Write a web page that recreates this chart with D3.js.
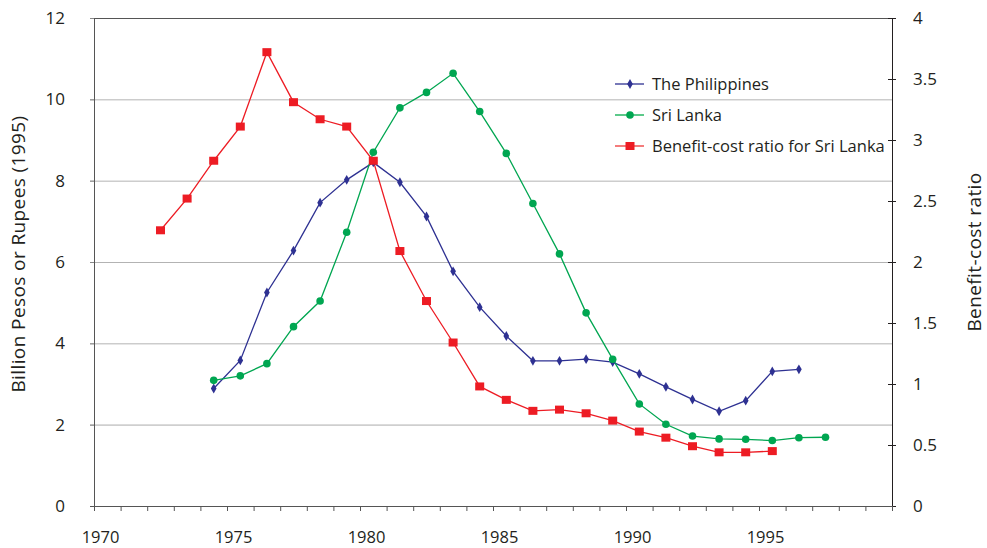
<!DOCTYPE html>
<html lang="en">
    <head>
        <meta charset="utf-8">
        <title>Billion Pesos or Rupees and Benefit-cost ratio</title>
        <style>
            body {
                margin: 0;
                background-color: white;
            }
            svg text {
                font-family: "Open Sans", "Noto Sans", sans-serif;
                fill: #231f20;
            }
        </style>
        <script src="https://d3js.org/d3.v7.min.js"></script>
    </head>
    <body>
    </body>
    <script>
        // values
        let philippinesYears = [1974, 1975, 1976, 1977, 1978, 1979, 1980, 1981, 1982, 1983, 1984, 1985,
                                1986, 1987, 1988, 1989, 1990, 1991, 1992, 1993, 1994, 1995, 1996]
        let philippinesValues = [2.89, 3.58, 5.25, 6.28, 7.46, 8.02, 8.45, 7.96, 7.12, 5.77, 4.89, 4.18,
                                 3.57, 3.57, 3.61, 3.54, 3.25, 2.93, 2.62, 2.33, 2.59, 3.31, 3.36]

        let sriLankaYears = [1974, 1975, 1976, 1977, 1978, 1979, 1980, 1981, 1982, 1983, 1984, 1985,
                             1986, 1987, 1988, 1989, 1990, 1991, 1992, 1993, 1994, 1995, 1996, 1997]
        let sriLankaValues = [3.09, 3.20, 3.50, 4.41, 5.04, 6.73, 8.70, 9.79, 10.17, 10.64, 9.70, 8.67,
                              7.44, 6.20, 4.75, 3.61, 2.51, 2.01, 1.72, 1.65, 1.64, 1.61, 1.68, 1.69]

        let ratioYears = [1972, 1973, 1974, 1975, 1976, 1977, 1978, 1979, 1980, 1981, 1982, 1983,
                          1984, 1985, 1986, 1987, 1988, 1989, 1990, 1991, 1992, 1993, 1994, 1995]
        let ratioValues = [2.26, 2.52, 2.83, 3.11, 3.72, 3.31, 3.17, 3.11, 2.83, 2.09, 1.68, 1.34,
                           0.98, 0.87, 0.78, 0.79, 0.76, 0.70, 0.61, 0.56, 0.49, 0.44, 0.44, 0.45]

        let xTickLabels = [1970, 1975, 1980, 1985, 1990, 1995]
        let leftTicks = [0, 2, 4, 6, 8, 10, 12]
        let rightTicks = [0, 0.5, 1, 1.5, 2, 2.5, 3, 3.5, 4]
        let seriesNames = ["The Philippines", "Sri Lanka", "Benefit-cost ratio for Sri Lanka"]

        let width = 987
        let height = 548
        let plotLeft = 94
        let plotRight = 892
        let plotTop = 18
        let plotBottom = 506

        let blue = "#2e3192"
        let green = "#00a651"
        let red = "#ed1c24"

        let svg = d3.select("body")
                    .append("svg")
                    .attr("width", width)
                    .attr("height", height)

        // one category per year, points sit in the middle of each
        let xScale = d3.scaleLinear()
                        .domain([1970, 2000])
                        .range([plotLeft, plotRight])
        let xPos = (year) => xScale(year + 0.5)

        let yLeft = d3.scaleLinear()
                        .domain([0, 12])
                        .range([plotBottom, plotTop])
        let yRight = d3.scaleLinear()
                        .domain([0, 4])
                        .range([plotBottom, plotTop])

        // gridlines
        svg.append("g")
            .attr("transform", `translate(${plotLeft},0)`)
            .call(d3.axisLeft(yLeft)
                    .tickValues(leftTicks.filter((d) => d > 0 && d < 12))
                    .tickSize(-(plotRight - plotLeft))
                    .tickFormat(""))
            .call((g) => g.select(".domain").remove())
            .call((g) => g.selectAll("line")
                            .attr("x1", -4)
                            .attr("stroke", (d) => d == 2 ? "#cfcfcf" : "#b3b3b3")
                            .attr("stroke-width", (d) => d == 2 ? 1.6 : 1))

        // top border
        svg.append("line")
            .attr("x1", plotLeft)
            .attr("x2", plotRight)
            .attr("y1", plotTop + 0.5)
            .attr("y2", plotTop + 0.5)
            .attr("stroke", "#555")

        // left axis
        let leftAxis = svg.append("g")
            .attr("transform", `translate(${plotLeft},0)`)
            .call(d3.axisLeft(yLeft)
                    .tickValues(leftTicks)
                    .tickSize(4)
                    .tickPadding(25)
                    .tickSizeOuter(0))
        leftAxis.select(".domain").attr("stroke", "#555")
        leftAxis.selectAll("line").attr("stroke", "#888")
        leftAxis.selectAll("text")
                .attr("font-size", "17px")
                .attr("font-family", "'Open Sans', sans-serif")
                .attr("fill", "#231f20")

        // right axis
        let rightAxis = svg.append("g")
            .attr("transform", `translate(${plotRight},0)`)
            .call(d3.axisRight(yRight)
                    .tickValues(rightTicks)
                    .tickSize(4)
                    .tickPadding(17)
                    .tickSizeOuter(0)
                    .tickFormat((d) => d))
        rightAxis.select(".domain").attr("stroke", "#231f20")
        rightAxis.selectAll(".tick line")
                .attr("x1", -4)
                .attr("stroke", "#231f20")
        rightAxis.selectAll("text")
                .attr("font-size", "17px")
                .attr("font-family", "'Open Sans', sans-serif")
                .attr("fill", "#231f20")

        // bottom axis: a tick for every year, labels every five
        let years = d3.range(1970, 2001)
        let bottomAxis = svg.append("g")
            .attr("transform", `translate(0,${plotBottom})`)
            .call(d3.axisBottom(xScale)
                    .tickValues(years)
                    .tickSize(5)
                    .tickSizeOuter(0)
                    .tickFormat(""))
        bottomAxis.select(".domain")
                .attr("stroke", "#555")
                .attr("d", `M${plotLeft - 4},0.5H${plotRight}`)
        bottomAxis.selectAll("line").attr("stroke", "#555")

        let labelAxis = svg.append("g")
            .attr("transform", `translate(6,${plotBottom})`)
            .call(d3.axisBottom(xScale)
                    .tickValues(xTickLabels)
                    .tickSize(0)
                    .tickPadding(25)
                    .tickFormat((d) => d))
        labelAxis.select(".domain").remove()
        labelAxis.selectAll("text")
                .attr("font-size", "16.5px")
                .attr("font-family", "'Open Sans', sans-serif")
                .attr("fill", "#231f20")

        // axis titles
        svg.append("text")
            .text("Billion Pesos or Rupees (1995)")
            .attr("transform", `translate(25,${(plotTop + plotBottom) / 2 - 8}) rotate(-90)`)
            .attr("text-anchor", "middle")
            .attr("font-size", "19px")
            .attr("letter-spacing", "0.4px")

        svg.append("text")
            .text("Benefit-cost ratio")
            .attr("transform", `translate(981,${(plotTop + plotBottom) / 2 - 10}) rotate(-90)`)
            .attr("text-anchor", "middle")
            .attr("font-size", "19px")
            .attr("letter-spacing", "0.4px")

        // series
        let drawLine = (xs, ys, yScale, color) => {
            let pts = xs.map((x, i) => [x, ys[i]])
            svg.append("path")
                .datum(pts)
                .attr("fill", "none")
                .attr("stroke", color)
                .attr("stroke-width", 1.3)
                .attr("d", d3.line()
                            .x((d) => xPos(d[0]))
                            .y((d) => yScale(d[1])))
            return pts
        }

        let phPts = drawLine(philippinesYears, philippinesValues, yLeft, blue)
        let slPts = drawLine(sriLankaYears, sriLankaValues, yLeft, green)
        let bcPts = drawLine(ratioYears, ratioValues, yRight, red)

        svg.append("g")
            .selectAll("path")
            .data(phPts)
            .enter()
            .append("path")
            .attr("d", d3.symbol().type(d3.symbolDiamond).size(28))
            .attr("transform", (d) => `translate(${xPos(d[0])},${yLeft(d[1])})`)
            .attr("fill", blue)

        svg.append("g")
            .selectAll("circle")
            .data(slPts)
            .enter()
            .append("circle")
            .attr("cx", (d) => xPos(d[0]))
            .attr("cy", (d) => yLeft(d[1]))
            .attr("r", 3.8)
            .attr("fill", green)

        svg.append("g")
            .selectAll("rect")
            .data(bcPts)
            .enter()
            .append("rect")
            .attr("x", (d) => xPos(d[0]) - 4.5)
            .attr("y", (d) => yRight(d[1]) - 4)
            .attr("width", 9)
            .attr("height", 8)
            .attr("fill", red)

        // legend
        let legendColors = [blue, green, red]
        let legendLines = ["#2e3192", "#5cc98a", "#f47c7c"]
        let legend = svg.append("g")
            .attr("transform", "translate(615,84)")

        seriesNames.forEach((name, i) => {
            let row = legend.append("g")
                .attr("transform", `translate(0,${i * 31})`)
            row.append("line")
                .attr("x1", 0)
                .attr("x2", 29)
                .attr("stroke", legendLines[i])
                .attr("stroke-width", i == 0 ? 1.3 : 2)
            if (i == 0) {
                row.append("path")
                    .attr("d", d3.symbol().type(d3.symbolDiamond).size(28))
                    .attr("transform", "translate(15,0)")
                    .attr("fill", legendColors[i])
            } else if (i == 1) {
                row.append("circle")
                    .attr("cx", 15)
                    .attr("r", 3.8)
                    .attr("fill", legendColors[i])
            } else {
                row.append("rect")
                    .attr("x", 10.5)
                    .attr("y", -4)
                    .attr("width", 9)
                    .attr("height", 8)
                    .attr("fill", legendColors[i])
            }
            row.append("text")
                .text(name)
                .attr("x", 37)
                .attr("dy", "0.35em")
                .attr("font-size", "16.5px")
        })
    </script>
</html>
